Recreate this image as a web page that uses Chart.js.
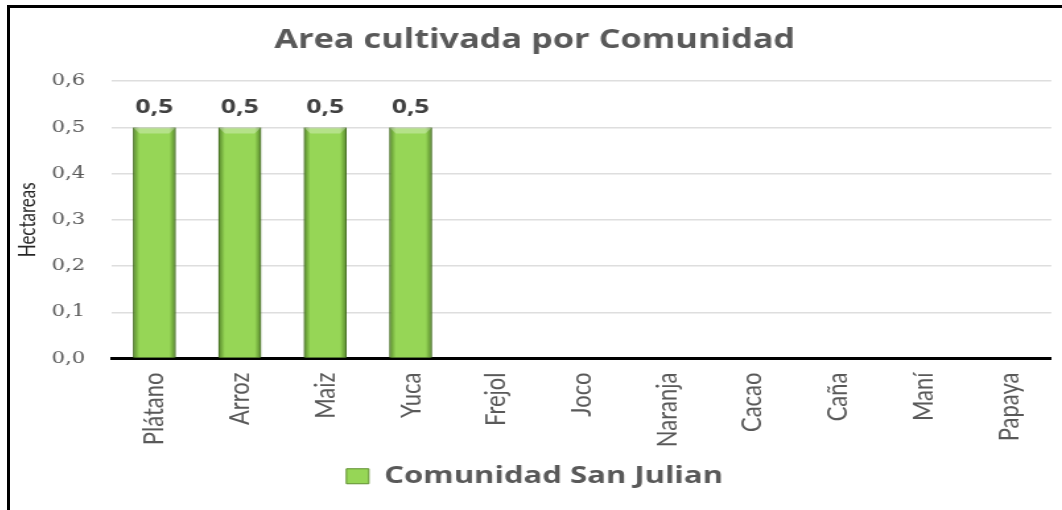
<!DOCTYPE html>
<html>
<head>
<meta charset="utf-8">
<script src="https://cdn.jsdelivr.net/npm/chart.js@4"></script>
<style>
  body { margin: 0; background: #fff; }
  .marco {
    position: absolute; left: 7px; top: 5px; width: 1055px; height: 505px;
    box-sizing: border-box; border-top: 3px solid #000; border-left: 3px solid #000;
    overflow: hidden; background: #fff;
  }
  /* el gráfico se estira a lo ancho, como el original */
  #areaChart { transform: scaleX(1.32); transform-origin: 0 0; display: block; }
</style>
</head>
<body>
<div class="marco">
  <canvas id="areaChart" width="797" height="502"></canvas>
</div>
<script>
// cultivos
const cultivos = ['Plátano', 'Arroz', 'Maiz', 'Yuca', 'Frejol', 'Joco', 'Naranja', 'Cacao', 'Caña', 'Maní', 'Papaya'];
// hectáreas por cultivo (vacío = sin dato)
const hectareasSanJulian = [0.5, 0.5, 0.5, 0.5, null, null, null, null, null, null, null];
// eje Y
const ejeMin = 0;
const ejeMax = 0.6;
const ejePaso = 0.1;

const formato = v => Number(v).toFixed(1).replace('.', ',');

// sombreado de las barras (bordes oscuros + bisel arriba)
const biselBarras = {
  id: 'biselBarras',
  afterDatasetsDraw(chart) {
    const ctx = chart.ctx;
    const meta = chart.getDatasetMeta(0);
    ctx.save();
    meta.data.forEach((bar, i) => {
      if (hectareasSanJulian[i] == null) return;
      const { x, y, base, width } = bar.getProps(['x', 'y', 'base', 'width'], true);
      const left = x - width / 2;
      const g = ctx.createLinearGradient(left, 0, left + width, 0);
      g.addColorStop(0, 'rgba(40,80,10,0.6)');
      g.addColorStop(0.15, 'rgba(40,80,10,0)');
      g.addColorStop(0.85, 'rgba(40,80,10,0)');
      g.addColorStop(1, 'rgba(40,80,10,0.6)');
      ctx.fillStyle = g;
      ctx.fillRect(left, y, width, base - y);
      // bisel superior
      ctx.beginPath();
      ctx.moveTo(left, y);
      ctx.lineTo(left + width, y);
      ctx.lineTo(left + width - 5, y + 6);
      ctx.lineTo(left + 5, y + 6);
      ctx.closePath();
      ctx.fillStyle = 'rgba(255,255,255,0.3)';
      ctx.fill();
    });
    ctx.restore();
  }
};

// etiquetas con el valor encima de cada barra
const etiquetasValor = {
  id: 'etiquetasValor',
  afterDatasetsDraw(chart) {
    const ctx = chart.ctx;
    const meta = chart.getDatasetMeta(0);
    ctx.save();
    ctx.font = 'bold 20px "Open Sans"';
    ctx.fillStyle = '#404040';
    ctx.textAlign = 'center';
    ctx.textBaseline = 'alphabetic';
    meta.data.forEach((bar, i) => {
      const v = hectareasSanJulian[i];
      if (v == null) return;
      ctx.fillText(formato(v), bar.x, bar.y - 14);
    });
    ctx.restore();
  }
};

new Chart(document.getElementById('areaChart'), {
  type: 'bar',
  data: {
    labels: cultivos,
    datasets: [{
      label: 'Comunidad San Julian',
      data: hectareasSanJulian,
      backgroundColor: '#96d656',
      borderColor: '#5f8f2f',
      borderWidth: 1,
      barPercentage: 0.5,
      categoryPercentage: 1.0
    }]
  },
  options: {
    responsive: false,
    devicePixelRatio: 1,
    animation: false,
    layout: { padding: { left: 0, right: 2, top: 0, bottom: 12 } },
    plugins: {
      title: {
        display: true,
        text: 'Area cultivada por Comunidad',
        color: '#595959',
        font: { family: '"Open Sans"', size: 26, weight: 'bold' },
        padding: { top: 17, bottom: 25 }
      },
      legend: {
        position: 'bottom',
        labels: {
          color: '#595959',
          font: { family: '"Open Sans"', size: 23.5, weight: 'bold' },
          boxWidth: 17,
          boxHeight: 15,
          padding: 10
        }
      },
      tooltip: { enabled: false }
    },
    scales: {
      x: {
        grid: { display: false, drawTicks: false },
        border: { display: true, color: '#000', width: 3 },
        ticks: {
          minRotation: 90,
          maxRotation: 90,
          padding: 14,
          color: '#595959',
          font: { family: 'Lato', size: 22 }
        },
        afterFit(scale) { scale.height = 96; }
      },
      y: {
        min: ejeMin,
        max: ejeMax,
        grid: { color: '#dedede', lineWidth: 1.5, drawTicks: false },
        border: { display: false },
        ticks: {
          stepSize: ejePaso,
          padding: 20,
          color: '#595959',
          font: { family: '"DejaVu Serif"', size: 16 },
          callback: v => formato(v)
        },
        title: {
          display: true,
          text: 'Hectareas',
          color: '#262626',
          font: { family: 'Lato', size: 17 },
          padding: { top: 3, bottom: 0 }
        },
        afterFit(scale) { scale.width = 77; }
      }
    }
  },
  plugins: [biselBarras, etiquetasValor]
});
</script>
</body>
</html>
